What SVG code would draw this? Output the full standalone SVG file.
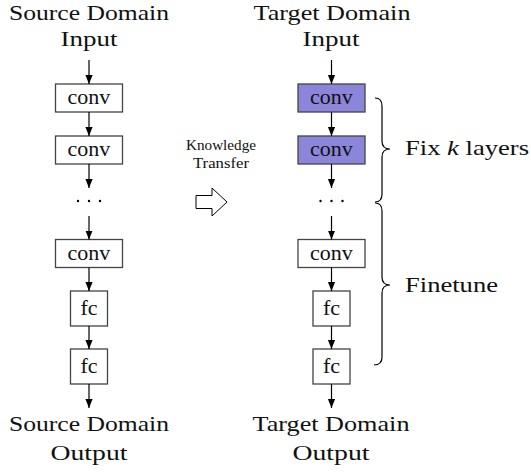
<svg xmlns="http://www.w3.org/2000/svg" width="531" height="472" viewBox="0 0 531 472">
<defs>
<marker id="ah" viewBox="0 0 10 10" refX="10" refY="5" markerWidth="9" markerHeight="9" markerUnits="userSpaceOnUse" orient="auto">
<path d="M0,1 L10,5 L0,9 Z" fill="#000"/>
</marker>
<style>
.lbl{font-family:"Liberation Serif","Times New Roman",serif;font-size:22px;fill:#111;text-anchor:middle}
.sm{font-family:"Liberation Serif","Times New Roman",serif;font-size:15px;fill:#111;text-anchor:middle}
.side{font-family:"Liberation Serif","Times New Roman",serif;font-size:22px;fill:#111}
.box{fill:#fff;stroke:#444;stroke-width:1.3}
.fixed{fill:#8c86da;stroke:#444;stroke-width:1.3}
.arr{stroke:#000;stroke-width:1.2;fill:none;marker-end:url(#ah)}
.brace{stroke:#000;stroke-width:1.2;fill:none}
</style>
</defs>
<rect width="531" height="472" fill="#fff"/>

<g id="src-input"><text class="lbl" x="89" y="20" textLength="160" lengthAdjust="spacingAndGlyphs">Source Domain</text><text class="lbl" x="89" y="46" textLength="57" lengthAdjust="spacingAndGlyphs">Input</text></g>
<g id="src-conv1"><rect class="box" x="55.5" y="84" width="67" height="28"/><text class="lbl" x="89" y="104">conv</text></g>
<g id="src-conv2"><rect class="box" x="55.5" y="136" width="67" height="28"/><text class="lbl" x="89" y="156">conv</text></g>
<g id="src-dots"><circle cx="78" cy="201" r="1.2"/><circle cx="89" cy="201" r="1.2"/><circle cx="100" cy="201" r="1.2"/></g>
<g id="src-conv3"><rect class="box" x="55.5" y="239.5" width="67" height="28"/><text class="lbl" x="89" y="259.5">conv</text></g>
<g id="src-fc1"><rect class="box" x="70.5" y="291" width="37" height="35"/><text class="lbl" x="89" y="315">fc</text></g>
<g id="src-fc2"><rect class="box" x="70.5" y="349" width="37" height="35"/><text class="lbl" x="89" y="373">fc</text></g>
<g id="src-output"><text class="lbl" x="89" y="431" textLength="160" lengthAdjust="spacingAndGlyphs">Source Domain</text><text class="lbl" x="89" y="460" textLength="77" lengthAdjust="spacingAndGlyphs">Output</text></g>

<g id="tgt-input"><text class="lbl" x="332" y="20" textLength="157" lengthAdjust="spacingAndGlyphs">Target Domain</text><text class="lbl" x="331" y="46" textLength="57" lengthAdjust="spacingAndGlyphs">Input</text></g>
<g id="tgt-conv1"><rect class="fixed" x="298" y="84" width="67" height="28"/><text class="lbl" x="331.5" y="104">conv</text></g>
<g id="tgt-conv2"><rect class="fixed" x="298" y="136" width="67" height="28"/><text class="lbl" x="331.5" y="156">conv</text></g>
<g id="tgt-dots"><circle cx="320.5" cy="201" r="1.2"/><circle cx="331.5" cy="201" r="1.2"/><circle cx="342.5" cy="201" r="1.2"/></g>
<g id="tgt-conv3"><rect class="box" x="298" y="239.5" width="67" height="28"/><text class="lbl" x="331.5" y="259.5">conv</text></g>
<g id="tgt-fc1"><rect class="box" x="313" y="291" width="37" height="35"/><text class="lbl" x="331.5" y="315">fc</text></g>
<g id="tgt-fc2"><rect class="box" x="313" y="349" width="37" height="35"/><text class="lbl" x="331.5" y="373">fc</text></g>
<g id="tgt-output"><text class="lbl" x="331" y="431" textLength="157" lengthAdjust="spacingAndGlyphs">Target Domain</text><text class="lbl" x="331" y="460" textLength="77" lengthAdjust="spacingAndGlyphs">Output</text></g>

<g id="transfer"><text class="sm" x="221" y="150" textLength="70" lengthAdjust="spacingAndGlyphs">Knowledge</text><text class="sm" x="221" y="168" textLength="56" lengthAdjust="spacingAndGlyphs">Transfer</text>
<path d="M196,195.5 L212,195.5 L212,188 L227,202 L212,216 L212,208.5 L196,208.5 Z" fill="#fff" stroke="#000" stroke-width="1"/></g>

<g id="fix-brace"><path class="brace" d="M375,98 Q382,98 382,106 L382,141 Q382,149 390,149 Q382,149 382,157 L382,194 Q382,202 375,202"/><text class="side" x="405" y="155" textLength="124" lengthAdjust="spacingAndGlyphs">Fix <tspan font-style="italic">k</tspan> layers</text></g>
<g id="finetune-brace"><path class="brace" d="M375,203 Q382,203 382,211 L382,277 Q382,285 390,285 Q382,285 382,293 L382,357 Q382,365 374,365"/><text class="side" x="405" y="292" textLength="93" lengthAdjust="spacingAndGlyphs">Finetune</text></g>

<g id="connectors">
<line class="arr" x1="89" y1="60" x2="89" y2="84"/>
<line class="arr" x1="89" y1="112" x2="89" y2="136"/>
<line class="arr" x1="89" y1="164" x2="89" y2="188"/>
<line class="arr" x1="89" y1="216" x2="89" y2="239.5"/>
<line class="arr" x1="89" y1="267.5" x2="89" y2="291"/>
<line class="arr" x1="89" y1="326" x2="89" y2="349"/>
<line class="arr" x1="89" y1="384" x2="89" y2="408"/>
<line class="arr" x1="331.5" y1="60" x2="331.5" y2="84"/>
<line class="arr" x1="331.5" y1="112" x2="331.5" y2="136"/>
<line class="arr" x1="331.5" y1="164" x2="331.5" y2="188"/>
<line class="arr" x1="331.5" y1="216" x2="331.5" y2="239.5"/>
<line class="arr" x1="331.5" y1="267.5" x2="331.5" y2="291"/>
<line class="arr" x1="331.5" y1="326" x2="331.5" y2="349"/>
<line class="arr" x1="331.5" y1="384" x2="331.5" y2="408"/>
</g>
</svg>
